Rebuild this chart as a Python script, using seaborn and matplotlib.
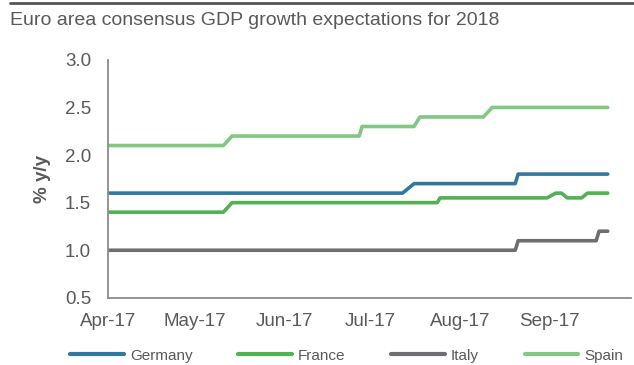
import matplotlib
matplotlib.use("Agg")
import matplotlib.pyplot as plt
import matplotlib.dates as mdates
from matplotlib.lines import Line2D
import pandas as pd
import seaborn as sns

# Consensus forecasts of 2018 GDP growth (% y/y), recorded at each revision date
germany_dates = ["2017-04-01", "2017-07-12", "2017-07-16", "2017-08-20", "2017-08-21", "2017-09-21"]
germany_values = [1.6, 1.6, 1.7, 1.7, 1.8, 1.8]

france_dates = ["2017-04-01", "2017-05-11", "2017-05-14", "2017-07-24", "2017-07-25",
                "2017-08-31", "2017-09-03", "2017-09-05", "2017-09-07", "2017-09-12",
                "2017-09-14", "2017-09-21"]
france_values = [1.4, 1.4, 1.5, 1.5, 1.55, 1.55, 1.6, 1.6, 1.55, 1.55, 1.6, 1.6]

italy_dates = ["2017-04-01", "2017-08-20", "2017-08-21", "2017-09-17", "2017-09-18", "2017-09-21"]
italy_values = [1.0, 1.0, 1.1, 1.1, 1.2, 1.2]

spain_dates = ["2017-04-01", "2017-05-11", "2017-05-14", "2017-06-27", "2017-06-28",
               "2017-07-16", "2017-07-18", "2017-08-09", "2017-08-12", "2017-09-21"]
spain_values = [2.1, 2.1, 2.2, 2.2, 2.3, 2.3, 2.4, 2.4, 2.5, 2.5]

countries = ["Germany", "France", "Italy", "Spain"]
colors = {"Germany": "#31789e", "France": "#52b152", "Italy": "#6e6e72", "Spain": "#82c882"}

series = {
    "Germany": (germany_dates, germany_values),
    "France": (france_dates, france_values),
    "Italy": (italy_dates, italy_values),
    "Spain": (spain_dates, spain_values),
}
frames = []
for name in countries:
    d, v = series[name]
    frames.append(pd.DataFrame({"date": pd.to_datetime(d), "value": v, "country": name}))
df = pd.concat(frames, ignore_index=True)

sns.set_style("white")
plt.rcParams["font.family"] = ["Liberation Sans", "DejaVu Sans"]
text_color = "#595959"
axis_color = "#8c8c8c"

fig = plt.figure(figsize=(6.34, 3.65), dpi=100)
ax = fig.add_axes([0.170, 0.184, 0.825, 0.652])

sns.lineplot(data=df, x="date", y="value", hue="country", hue_order=countries,
             palette=colors, linewidth=2.6, ax=ax, legend=False,
             solid_capstyle="round", solid_joinstyle="round")

ax.set_xlim(pd.Timestamp("2017-04-01"), pd.Timestamp("2017-09-29"))
ax.set_ylim(0.5, 3.0)
ax.set_yticks([0.5, 1.0, 1.5, 2.0, 2.5, 3.0])
ax.yaxis.set_major_formatter(matplotlib.ticker.FormatStrFormatter("%.1f"))
ax.xaxis.set_major_locator(mdates.MonthLocator())
ax.xaxis.set_major_formatter(mdates.DateFormatter("%b-%y"))

ax.set_xlabel("")
ax.set_ylabel("% y/y", fontsize=13.5, fontweight="bold", color=text_color, labelpad=10)

for side in ["top", "right"]:
    ax.spines[side].set_visible(False)
for side in ["left", "bottom"]:
    ax.spines[side].set_color(axis_color)
    ax.spines[side].set_linewidth(1.3)

ax.tick_params(axis="both", which="major", direction="out", length=4, width=1.2,
               color=axis_color, labelcolor=text_color, labelsize=13.5)
ax.tick_params(axis="y", pad=8)
ax.tick_params(axis="x", pad=7)

# Figure title and the rule above it
fig.text(0.016, 0.945, "Euro area consensus GDP growth expectations for 2018",
         fontsize=14, color=text_color, ha="left", va="center")
fig.add_artist(Line2D([0.016, 1.0], [0.993, 0.993], transform=fig.transFigure,
                      color="#555555", linewidth=2))

handles = [Line2D([], [], color=colors[c], linewidth=3, solid_capstyle="round") for c in countries]
fig.legend(handles, countries, loc="center", bbox_to_anchor=(0.547, 0.026), ncol=4,
           frameon=False, fontsize=11, handlelength=3.5, handletextpad=0.4,
           columnspacing=3.0, labelcolor=text_color)

fig.savefig("out.png", dpi=100)
